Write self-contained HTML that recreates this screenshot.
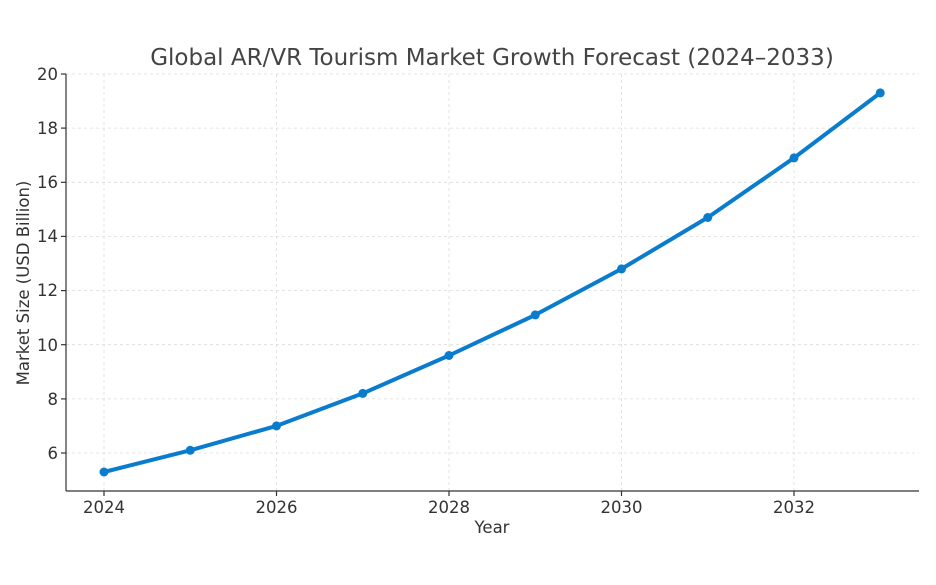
<!DOCTYPE html>
<html><head><meta charset="utf-8"><style>body{margin:0;background:#fff}svg{display:block}text{font-family:"DejaVu Sans","Liberation Sans",sans-serif;fill:#333}</style></head>
<body>
<svg width="936" height="585" viewBox="0 0 936 585">
<g stroke="#dcdcdc" stroke-dasharray="3,3" stroke-width="0.8">
<line x1="104" y1="74" x2="104" y2="491"/><line x1="276.5" y1="74" x2="276.5" y2="491"/><line x1="449" y1="74" x2="449" y2="491"/><line x1="621.5" y1="74" x2="621.5" y2="491"/><line x1="794" y1="74" x2="794" y2="491"/>
<line x1="66" y1="74" x2="919" y2="74"/><line x1="66" y1="128.1" x2="919" y2="128.1"/><line x1="66" y1="182.3" x2="919" y2="182.3"/><line x1="66" y1="236.4" x2="919" y2="236.4"/><line x1="66" y1="290.6" x2="919" y2="290.6"/><line x1="66" y1="344.7" x2="919" y2="344.7"/><line x1="66" y1="398.9" x2="919" y2="398.9"/><line x1="66" y1="453" x2="919" y2="453"/>
</g>
<g stroke="#333" stroke-width="1.2">
<line x1="66" y1="74" x2="66" y2="491"/><line x1="66" y1="491" x2="919" y2="491"/>
<line x1="61" y1="74" x2="66" y2="74"/><line x1="61" y1="128.1" x2="66" y2="128.1"/><line x1="61" y1="182.3" x2="66" y2="182.3"/><line x1="61" y1="236.4" x2="66" y2="236.4"/><line x1="61" y1="290.6" x2="66" y2="290.6"/><line x1="61" y1="344.7" x2="66" y2="344.7"/><line x1="61" y1="398.9" x2="66" y2="398.9"/><line x1="61" y1="453" x2="66" y2="453"/>
<line x1="104" y1="491" x2="104" y2="496"/><line x1="276.5" y1="491" x2="276.5" y2="496"/><line x1="449" y1="491" x2="449" y2="496"/><line x1="621.5" y1="491" x2="621.5" y2="496"/><line x1="794" y1="491" x2="794" y2="496"/>
</g>
<g font-size="16.5" text-anchor="end">
<text x="58" y="80">20</text><text x="58" y="134">18</text><text x="58" y="188">16</text><text x="58" y="242">14</text><text x="58" y="296">12</text><text x="58" y="351">10</text><text x="58" y="405">8</text><text x="58" y="459">6</text>
</g>
<g font-size="16.5" text-anchor="middle">
<text x="104" y="513">2024</text><text x="276.5" y="513">2026</text><text x="449" y="513">2028</text><text x="621.5" y="513">2030</text><text x="794" y="513">2032</text>
<text x="492" y="533">Year</text>
<text x="492" y="65" font-size="23" style="fill:#444">Global AR/VR Tourism Market Growth Forecast (2024–2033)</text>
<text transform="translate(29,283) rotate(-90)">Market Size (USD Billion)</text>
</g>
<polyline fill="none" stroke="#0a7ccd" stroke-width="4" stroke-linejoin="round" points="104,472 190.25,450.3 276.5,425.9 362.75,393.4 449,355.5 535.25,314.9 621.5,268.9 707.75,217.5 794,157.9 880.25,92.9"/>
<g fill="#0a7ccd">
<circle cx="104" cy="472" r="4.5"/><circle cx="190.25" cy="450.3" r="4.5"/><circle cx="276.5" cy="425.9" r="4.5"/><circle cx="362.75" cy="393.4" r="4.5"/><circle cx="449" cy="355.5" r="4.5"/><circle cx="535.25" cy="314.9" r="4.5"/><circle cx="621.5" cy="268.9" r="4.5"/><circle cx="707.75" cy="217.5" r="4.5"/><circle cx="794" cy="157.9" r="4.5"/><circle cx="880.25" cy="92.9" r="4.5"/>
</g>
</svg>
</body></html>
